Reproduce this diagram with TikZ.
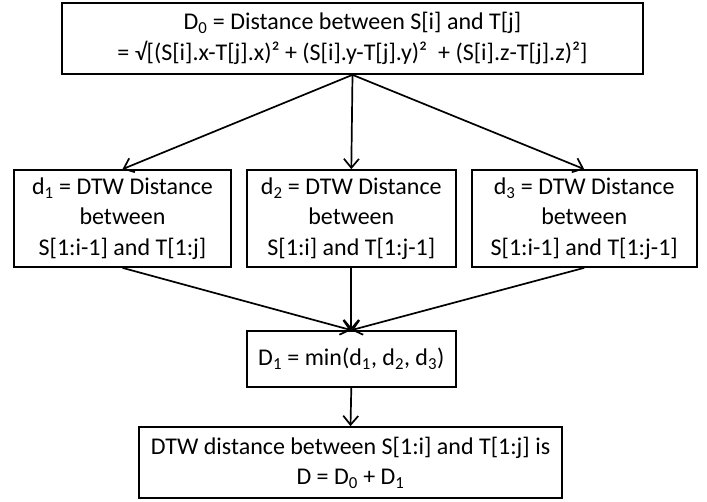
\documentclass[tikz,border=0pt]{standalone}
\usepackage{fontspec}
\setmainfont{Carlito}
\usetikzlibrary{arrows.meta}
\begin{document}
\begin{tikzpicture}[x=1pt,y=-1pt,
  box/.style={draw, line width=1.7pt, inner sep=0pt, align=center,
    font=\fontsize{24}{30.5}\selectfont},
  arr/.style={line width=1.7pt, -{Straight Barb[length=9pt,width=15pt,line width=1.7pt]}}]
\useasboundingbox (0,0) rectangle (707,501);
\node[box, minimum width=581pt, minimum height=71pt] (top) at (352.5,38.5)
  {D\textsubscript{0} = Distance between S[i] and T[j]\\
   = √[(S[i].x-T[j].x)² + (S[i].y-T[j].y)²~ + (S[i].z-T[j].z)²]};
\node[box, minimum width=217pt, minimum height=97pt] (b1) at (122.5,218.5)
  {d\textsubscript{1} = DTW Distance\\between\\S[1:i-1] and T[1:j]};
\node[box, minimum width=209pt, minimum height=97pt] (b2) at (351.3,218.5)
  {d\textsubscript{2} = DTW Distance\\between\\S[1:i] and T[1:j-1]};
\node[box, minimum width=225pt, minimum height=97pt] (b3) at (584.2,218.5)
  {d\textsubscript{3} = DTW Distance\\between\\S[1:i-1] and T[1:j-1]};
\node[box, minimum width=209pt, minimum height=56pt] (mn) at (351.3,359)
  {D\textsubscript{1} = min(d\textsubscript{1}, d\textsubscript{2}, d\textsubscript{3})};
\node[box, minimum width=423pt, minimum height=71pt] (res) at (350.5,462.5)
  {DTW distance between S[1:i] and T[1:j] is\\D = D\textsubscript{0} + D\textsubscript{1}};
\draw[arr] (top.south) -- (b1.north);
\draw[arr] (top.south) -- (b2.north);
\draw[arr] (top.south) -- (b3.north);
\draw[arr] (b1.south) -- (mn.north);
\draw[arr] (b2.south) -- (mn.north);
\draw[arr] (b3.south) -- (mn.north);
\draw[arr] (mn.south) -- (res.north);
\end{tikzpicture}
\end{document}
